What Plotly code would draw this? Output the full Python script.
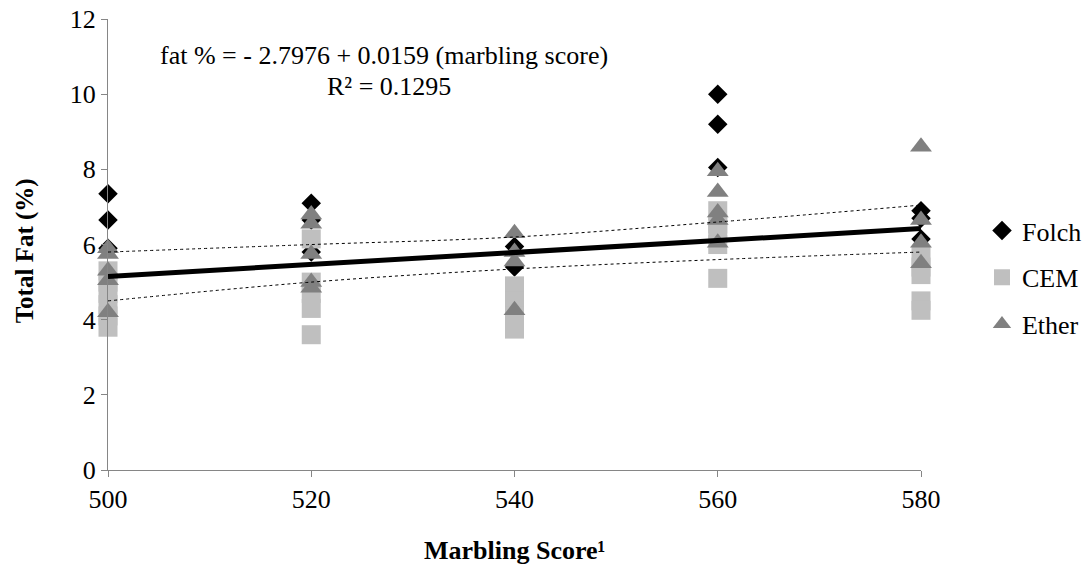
import plotly.graph_objects as go

# ---- data ----
folch_x = [500, 500, 500, 520, 520, 520, 540, 540, 560, 560, 560, 580, 580, 580]
folch_y = [7.35, 6.65, 5.9, 7.1, 6.65, 5.8, 5.95, 5.4, 10.0, 9.2, 8.05, 6.9, 6.7, 6.15]

cem_x = [500, 500, 500, 500, 500, 500, 520, 520, 520, 520, 520,
         540, 540, 540, 540, 540, 560, 560, 560, 560, 560, 580, 580, 580, 580, 580]
cem_y = [5.3, 5.0, 4.7, 4.4, 4.1, 3.8, 6.15, 5.0, 4.7, 4.3, 3.6,
         4.9, 4.7, 4.5, 4.1, 3.75, 6.9, 6.55, 6.3, 6.0, 5.1, 5.7, 5.4, 5.2, 4.5, 4.25]

ether_x = [500, 500, 500, 500, 500, 520, 520, 520, 520, 520,
           540, 540, 540, 540, 560, 560, 560, 560, 560, 580, 580, 580, 580]
ether_y = [5.9, 5.75, 5.3, 5.05, 4.2, 6.8, 6.55, 5.75, 5.0, 4.85,
           6.3, 5.8, 5.55, 4.25, 7.95, 7.4, 6.85, 6.65, 6.05, 8.6, 6.65, 6.05, 5.5]

trend_intercept = -2.7976
trend_slope = 0.0159
trend_x = [500, 580]

band_x = [500, 520, 540, 560, 580]
band_upper = [5.8, 6.0, 6.2, 6.6, 7.05]
band_lower = [4.5, 5.0, 5.35, 5.6, 5.8]

x_ticks = [500, 520, 540, 560, 580]
y_ticks = [0, 2, 4, 6, 8, 10, 12]

FONT = "Liberation Serif"
FS = 26
AXC = "#868686"

trend_y = [trend_intercept + trend_slope * v for v in trend_x]

fig = go.Figure()
fig.add_trace(go.Scatter(x=folch_x, y=folch_y, mode="markers", name="Folch",
                         legendgroup="a",
                         marker=dict(symbol="diamond", size=15, color="#000000"),
                         cliponaxis=False))
fig.add_trace(go.Scatter(x=cem_x, y=cem_y, mode="markers", name="CEM",
                         legendgroup="b",
                         marker=dict(symbol="square", size=19, color="#BFBFBF"),
                         cliponaxis=False))
fig.add_trace(go.Scatter(x=ether_x, y=ether_y, mode="markers", name="Ether",
                         legendgroup="c",
                         marker=dict(symbol="triangle-up", size=19, color="#808080"),
                         cliponaxis=False))
fig.add_trace(go.Scatter(x=band_x, y=band_upper, mode="lines", showlegend=False,
                         line=dict(color="#000000", width=1, dash="dot", shape="spline")))
fig.add_trace(go.Scatter(x=band_x, y=band_lower, mode="lines", showlegend=False,
                         line=dict(color="#000000", width=1, dash="dot", shape="spline")))
fig.add_trace(go.Scatter(x=trend_x, y=trend_y, mode="lines", showlegend=False,
                         line=dict(color="#000000", width=5)))

fig.update_layout(
    width=1089, height=580,
    margin=dict(l=108, r=168, t=19, b=110, autoexpand=False),
    paper_bgcolor="white", plot_bgcolor="white",
    font=dict(family=FONT, size=FS, color="#000000"),
    showlegend=True,
    legend=dict(x=1.075, y=0.583, xanchor="left", yanchor="top",
                font=dict(family=FONT, size=FS), tracegroupgap=10,
                itemsizing="trace", bgcolor="rgba(0,0,0,0)"),
    xaxis=dict(range=[500, 580], tickvals=x_ticks, ticktext=[str(v) for v in x_ticks],
               showgrid=False, zeroline=False, showline=True, linecolor=AXC, linewidth=1.3,
               ticks="outside", ticklen=6, tickcolor=AXC, tickwidth=1.3, automargin=False,
               tickfont=dict(family=FONT, size=FS)),
    yaxis=dict(range=[0, 12.002], tickvals=y_ticks, ticktext=[str(v) for v in y_ticks],
               showgrid=False, zeroline=False, showline=True, linecolor=AXC, linewidth=1.3,
               ticks="outside", ticklen=6, tickcolor=AXC, tickwidth=1.3, automargin=False,
               tickfont=dict(family=FONT, size=FS)),
    annotations=[
        dict(text="fat % = - 2.7976 + 0.0159 (marbling score)", xref="paper", yref="paper",
             x=0.339, y=0.918, showarrow=False, font=dict(family=FONT, size=FS),
             xanchor="center", yanchor="middle"),
        dict(text="R² = 0.1295", xref="paper", yref="paper",
             x=0.346, y=0.851, showarrow=False, font=dict(family=FONT, size=FS),
             xanchor="center", yanchor="middle"),
        dict(text="<b>Marbling Score¹</b>", xref="paper", yref="paper",
             x=0.5, y=-0.179, showarrow=False, font=dict(family=FONT, size=FS),
             xanchor="center", yanchor="middle"),
        dict(text="<b>Total Fat (%)</b>", xref="paper", yref="paper",
             x=(25 - 108) / 813, y=0.485, showarrow=False, textangle=-90,
             font=dict(family=FONT, size=25), xanchor="center", yanchor="middle"),
    ],
)

fig.write_html("out.html", config={"displayModeBar": False},
               post_script="document.body.style.margin='0';document.body.style.padding='0';")
